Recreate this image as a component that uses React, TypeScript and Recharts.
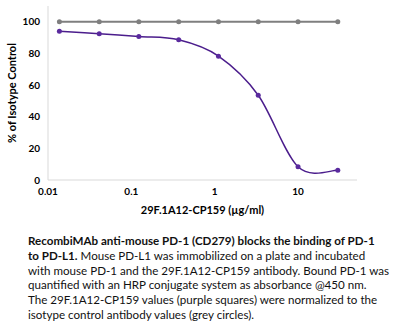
import React from "react"
import { LineChart, Line, XAxis, YAxis } from "recharts"

// concentrations of 29F.1A12-CP159 (µg/ml), 3-fold dilutions
const concentrations = [0.0137, 0.0412, 0.123, 0.37, 1.11, 3.33, 10, 30]
const antibodyValues = [94.1, 92.4, 90.7, 88.6, 78.3, 53.6, 8.4, 6.1]
const isotypeValues = [100, 100, 100, 100, 100, 100, 100, 100]
const xTicks = [0.01, 0.1, 1, 10]
const yTicks = [0, 20, 40, 60, 80, 100]

const captionLines = [
  "Mouse PD-L1 was immobilized on a plate and incubated",
  "with mouse PD-1 and the 29F.1A12-CP159 antibody. Bound PD-1 was",
  "quantified with an HRP conjugate system as absorbance @450 nm.",
  "The 29F.1A12-CP159 values (purple squares) were normalized to the",
  "isotype control antibody values (grey circles).",
]

const FONT = "Lato, 'Open Sans', sans-serif"
const PURPLE = "#4b1d8c"
const GREY = "#7f7f7f"

const data = concentrations.map((c, i) => ({
  conc: c,
  antibody: antibodyValues[i],
  isotype: isotypeValues[i],
}))

// Excel-like smoothed line (Catmull-Rom through the points)
function smoothCurve(context: any) {
  let pts: number[][] = []
  return {
    areaStart() {},
    areaEnd() {},
    lineStart() {
      pts = []
    },
    point(x: number, y: number) {
      pts.push([+x, +y])
    },
    lineEnd() {
      if (!pts.length) return
      context.moveTo(pts[0][0], pts[0][1])
      for (let i = 0; i < pts.length - 1; i++) {
        const p0 = pts[Math.max(i - 1, 0)]
        const p1 = pts[i]
        const p2 = pts[i + 1]
        const p3 = pts[Math.min(i + 2, pts.length - 1)]
        context.bezierCurveTo(
          p1[0] + (p2[0] - p0[0]) / 6,
          p1[1] + (p2[1] - p0[1]) / 6,
          p2[0] - (p3[0] - p1[0]) / 6,
          p2[1] - (p3[1] - p1[1]) / 6,
          p2[0],
          p2[1]
        )
      }
    },
  }
}

const tickStyle = { fill: "#000", fontSize: 10, fontWeight: 700, fontFamily: FONT }

export default function App() {
  return (
    <div
      style={{
        position: "absolute",
        top: 0,
        left: 0,
        width: 400,
        height: 335,
        background: "#fff",
        fontFamily: FONT,
      }}
    >
      <LineChart
        width={400}
        height={225}
        data={data}
        margin={{ top: 6, right: 43, bottom: 5, left: 0 }}
      >
        <XAxis
          dataKey="conc"
          type="number"
          scale="log"
          domain={[0.01, 51]}
          ticks={xTicks}
          tickFormatter={(v) => String(v)}
          allowDataOverflow
          axisLine={{ stroke: "#d9d9d9" }}
          tickLine={false}
          tick={tickStyle}
          height={40}
          label={{
            value: "29F.1A12-CP159 (µg/ml)",
            position: "insideBottom",
            offset: 6,
            style: { fill: "#000", fontSize: 11, fontWeight: 700, fontFamily: FONT },
          }}
        />
        <YAxis
          type="number"
          domain={[0, 110]}
          ticks={yTicks}
          axisLine={{ stroke: "#d9d9d9" }}
          tickLine={false}
          tick={tickStyle}
          width={48}
          label={{
            value: "% of Isotype Control",
            angle: -90,
            position: "insideLeft",
            offset: 12,
            style: {
              textAnchor: "middle",
              fill: "#000",
              fontSize: 11,
              fontWeight: 700,
              fontFamily: FONT,
            },
          }}
        />
        <Line
          dataKey="isotype"
          type="linear"
          stroke={GREY}
          strokeWidth={2}
          dot={{ r: 2.5, fill: GREY, stroke: GREY, strokeWidth: 0 }}
          isAnimationActive={false}
        />
        <Line
          dataKey="antibody"
          type={smoothCurve as any}
          stroke={PURPLE}
          strokeWidth={1.5}
          dot={{ r: 2.5, fill: "#5a2a9e", stroke: "#5a2a9e", strokeWidth: 0 }}
          isAnimationActive={false}
        />
      </LineChart>
      <div
        style={{
          position: "absolute",
          left: 28,
          top: 234,
          fontSize: 11.6,
          lineHeight: "14.8px",
          color: "#111",
          whiteSpace: "nowrap",
        }}
      >
        <div style={{ fontWeight: 700 }}>
          RecombiMAb anti-mouse PD-1 (CD279) blocks the binding of PD-1
        </div>
        <div>
          <b>to PD-L1.</b> {captionLines[0]}
        </div>
        {captionLines.slice(1).map((line) => (
          <div key={line}>{line}</div>
        ))}
      </div>
    </div>
  )
}
